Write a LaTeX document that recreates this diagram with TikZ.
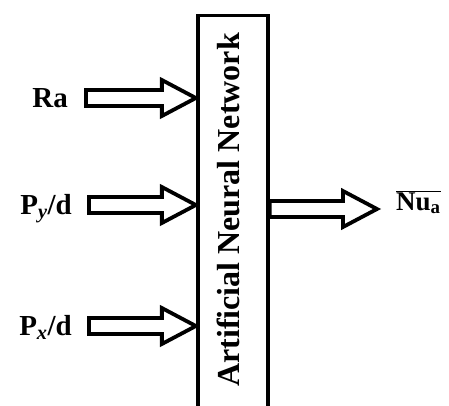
\documentclass[tikz,border=0pt]{standalone}
\usepackage{fontspec}
\setmainfont{Liberation Serif}
\usetikzlibrary{calc}
\begin{document}
\begin{tikzpicture}[x=1pt,y=-1pt,
  lbl/.style={font=\fontsize{29}{31}\selectfont\bfseries, inner sep=0pt, text height=19pt, text depth=0pt},
  annbox/.style={draw, line width=3.8pt, minimum width=70pt, minimum height=405pt, inner sep=0pt},
  anntext/.style={font=\fontsize{32}{34}\selectfont\bfseries, inner sep=0pt, text height=21pt, text depth=0pt, rotate=90},
  blockarrow/.style 2 args={line width=3.8pt, line join=miter,
    to path={let \p1=(\tikztostart), \p2=(\tikztotarget) in
      (\x1+#1,\y1-8pt) -- (\x2-#2-34pt,\y1-8pt) -- (\x2-#2-34pt,\y1-18pt) -- (\x2-#2,\y1)
      -- (\x2-#2-34pt,\y1+18pt) -- (\x2-#2-34pt,\y1+8pt) -- (\x1+#1,\y1+8pt) -- cycle}}]
\useasboundingbox (0,0) rectangle (449,405);

\node[annbox] (ann) at (232.75,218) {};
\node[anntext] (anntxt) at (229,210) {Artificial Neural Network};

\node[lbl, anchor=east] (ra) at (68,98) {Ra};
\node[lbl, anchor=east] (py) at (72,205) {P\textsubscript{\textit{y}}/d};
\node[lbl, anchor=east] (px) at (72,326) {P\textsubscript{\textit{x}}/d};
\node[font=\fontsize{27}{29}\selectfont\bfseries, inner sep=0pt, anchor=base west] (nu) at (396,210)
  {$\overline{\hbox{Nu\textsubscript{a}}}$};

\draw[blockarrow={18pt}{0pt}] (ra.east) to (ann.west |- ra.east);
\draw[blockarrow={17pt}{0pt}] (py.east) to (ann.west |- py.east);
\draw[blockarrow={17pt}{0pt}] (px.east) to (ann.west |- px.east);
\draw[blockarrow={0pt}{19pt}] ($(ann.east |- nu.base west)+(0,-1)$) to ($(nu.base west)+(0,-1)$);
\end{tikzpicture}
\end{document}
